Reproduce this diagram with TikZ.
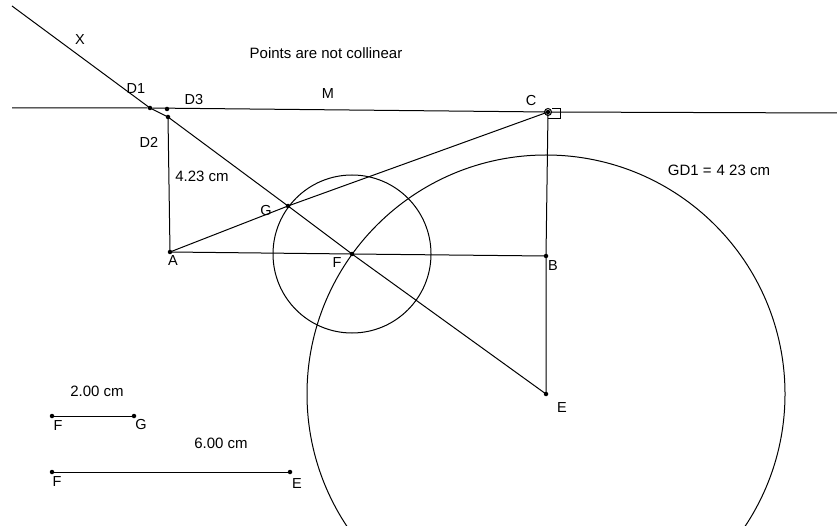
\documentclass[tikz,border=0pt]{standalone}
\usepackage{fontspec}
\setmainfont{Liberation Sans}
\begin{document}
\begin{tikzpicture}[x=1pt,y=-1pt,
  ln/.style={line width=1pt,black},
  pt/.style={circle,fill=black,inner sep=0pt,minimum size=4.5pt},
  lbl/.style={font=\fontsize{14.5}{16}\selectfont,inner sep=1pt},
  txt/.style={font=\fontsize{15}{17}\selectfont,inner sep=1pt}]
\useasboundingbox (0,0) rectangle (837,526);
\clip (0,0) rectangle (837,526);
% points
\coordinate (Xs) at (12,6);
\node[pt] (D1) at (150,108) {};
\node[pt] (D3) at (167,109) {};
\node[pt] (D2) at (168,117) {};
\node[pt] (C) at (548,112) {};
\node[pt] (A) at (170,252) {};
\node[pt] (G) at (288,206) {};
\node[pt] (F) at (352,254) {};
\node[pt] (B) at (546,256) {};
\node[pt] (E) at (546,394) {};
\coordinate (Hl) at (12,108);
\coordinate (Hr) at (837,113);
% lines
\draw[ln] (Hl) -- (D1) -- (C) -- (Hr);
\draw[ln] (Xs) -- (D1.center) -- (D2.center) -- (G.center) -- (F.center) -- (E.center);
\draw[ln] (D2.center) -- (A.center);
\draw[ln] (A.center) -- (G.center) -- (C.center);
\draw[ln] (A.center) -- (F.center) -- (B.center);
\draw[ln] (C.center) -- (B.center) -- (E.center);
\draw[ln] (F.center) circle (79);
\draw[ln] (E.center) circle (239);
% right angle mark at C
\draw[ln] (C.center) circle (3.5);
\draw[ln] (C.center) ++(4,-3) -- ++(8,0) -- ++(0,10) -- ++(-12,0);
% labels
\node[lbl] (lX) at (80,40) {X};
\node[lbl] (lD1) at (136,89) {D1};
\node[lbl] (lD3) at (194,100) {D3};
\node[lbl] (lM) at (328,94) {M};
\node[lbl] (lC) at (531,101) {C};
\node[lbl] (lD2) at (149,142) {D2};
\node[txt] (l423) at (202,176) {4.23 cm};
\node[lbl] (lG) at (266,211) {G};
\node[lbl] (lA) at (173,261) {A};
\node[lbl] (lF) at (337,263) {F};
\node[lbl] (lB) at (553,266) {B};
\node[lbl] (lE) at (562,408) {E};
\node[txt] (ltitle) at (326,53) {Points are not collinear};
\node[txt] (lGD1) at (719,170) {GD1 =\,\,4 23 cm};
% bottom-left measurements
\node[txt] (l200) at (97,391) {2.00 cm};
\node[pt] (F2) at (52,416) {};
\node[pt] (G2) at (134,416) {};
\draw[ln] (F2.center) -- (G2.center);
\node[lbl] (lF2) at (58,426) {F};
\node[lbl] (lG2) at (141,425) {G};
\node[txt] (l600) at (221,443) {6.00 cm};
\node[pt] (F3) at (52,472) {};
\node[pt] (E3) at (290,472) {};
\draw[ln] (F3.center) -- (E3.center);
\node[lbl] (lF3) at (57,482) {F};
\node[lbl] (lE3) at (297,484) {E};
\end{tikzpicture}
\end{document}
